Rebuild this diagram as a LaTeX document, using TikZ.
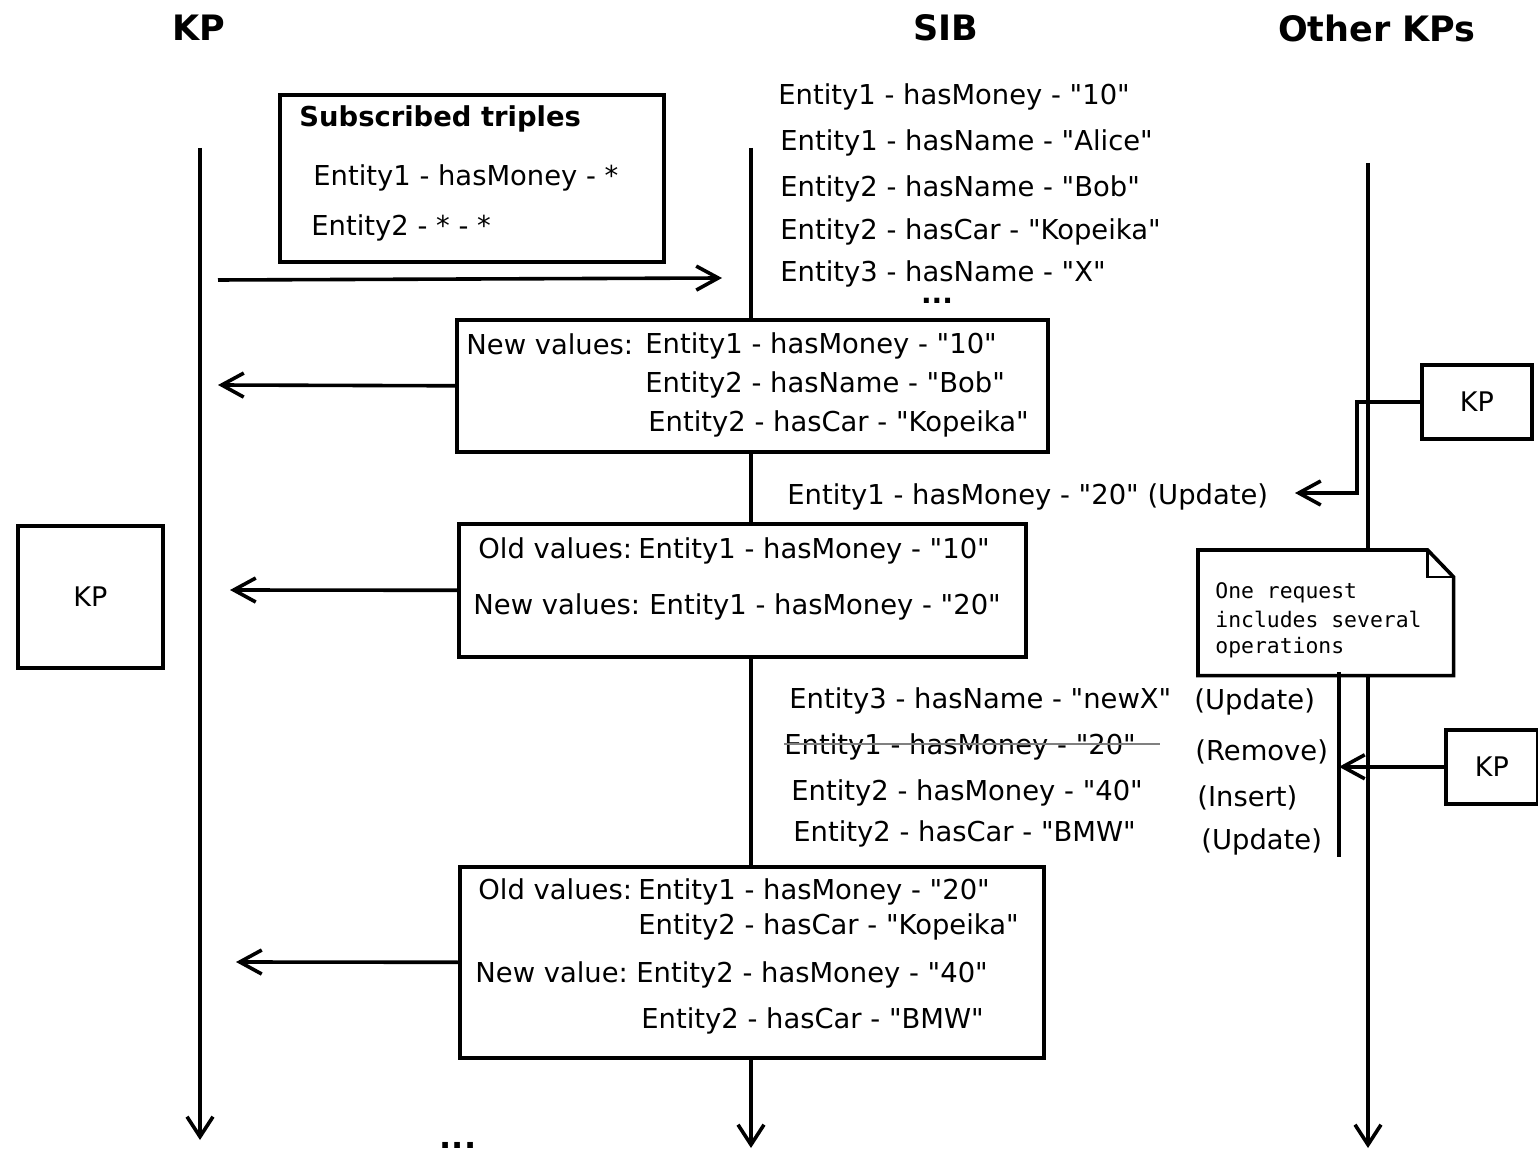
\documentclass[tikz,border=0pt]{standalone}
\usepackage{fontspec}
% families loaded without TeX ligatures so that " stays a straight quote
\newfontfamily\basefont{DejaVu Sans}
\newfontfamily\notefont{DejaVu Sans Mono}
\usetikzlibrary{arrows.meta,calc}

\tikzset{
  lifeline/.style={line width=1.8pt,-{Straight Barb[length=10pt,width=13pt]}},
  msg/.style={line width=1.8pt,-{Straight Barb[length=11pt,width=12pt]}},
  box/.style={draw,line width=1.8pt,fill=white,inner sep=0,anchor=north west},
  lbl/.style={anchor=west,inner sep=0,text height=10.2pt,text depth=3pt,yshift=-1.5pt,
              font=\basefont\fontsize{13.7}{17}\selectfont},
  boldlbl/.style={lbl,font=\basefont\bfseries\fontsize{13.7}{17}\selectfont},
  kptxt/.style={inner sep=0,font=\basefont\fontsize{13.5}{16}\selectfont},
  hdr/.style={inner sep=0,font=\basefont\bfseries\fontsize{17.5}{21}\selectfont},
  dots/.style={inner sep=0,text height=2.5pt,text depth=0pt,font=\basefont\bfseries\fontsize{14}{17}\selectfont},
  notetxt/.style={anchor=west,inner sep=0,font=\notefont\fontsize{10.7}{13}\selectfont},
}

\begin{document}
\begin{tikzpicture}[x=0.5pt,y=-0.5pt]
\useasboundingbox (0,0) rectangle (1538,1149);

% column headers
\node[hdr] (hKP)  at (199,28)  {KP};
\node[hdr] (hSIB) at (946,28)  {SIB};
\node[hdr] (hOth) at (1377,28) {Other KPs};

% lifelines
\coordinate (kpTop)  at (200,148);  \coordinate (kpBot)  at (200,1140);
\coordinate (sibTop) at (751,148);  \coordinate (sibBot) at (751,1148);
\coordinate (othTop) at (1368,163); \coordinate (othBot) at (1368,1148);
\draw[lifeline] (kpTop) -- (kpBot);
\draw[lifeline] (sibTop) -- (sibBot);
\draw[lifeline] (othTop) -- (othBot);

% subscription request
\node[box,minimum width=192pt,minimum height=83.5pt] (subs) at (278,93) {};
\node[boldlbl] (subsT) at (299,116) {Subscribed triples};
\node[lbl] (subs1) at (313,175) {Entity1 - hasMoney - *};
\node[lbl] (subs2) at (311,225) {Entity2 - * - *};
\coordinate (subFrom) at (218,280);
\coordinate (subTo) at (722,278);
\draw[msg] (subFrom) -- (subTo);

% SIB contents
\node[lbl] (s1) at (778,94)  {Entity1 - hasMoney - "10"};
\node[lbl] (s2) at (780,140) {Entity1 - hasName - "Alice"};
\node[lbl] (s3) at (780,186) {Entity2 - hasName - "Bob"};
\node[lbl] (s4) at (780,229) {Entity2 - hasCar - "Kopeika"};
\node[lbl] (s5) at (780,271) {Entity3 - hasName - "X"};
\node[dots] (sdots) at (937,301) {...};

% first notification
\node[box,minimum width=295.5pt,minimum height=66pt] (newv) at (455,318) {};
\node[lbl] (n0) at (466,344) {New values:};
\node[lbl] (n1) at (645,343) {Entity1 - hasMoney - "10"};
\node[lbl] (n2) at (645,382) {Entity2 - hasName - "Bob"};
\node[lbl] (n3) at (648,421) {Entity2 - hasCar - "Kopeika"};
\coordinate (kpIn1) at (218,385);
\draw[msg] (newv.west) -- (kpIn1);

% update from another KP
\node[box,minimum width=55pt,minimum height=37pt] (kpA) at (1420,363) {};
\node[kptxt] (kpAT) at (kpA.center) {KP};
\node[lbl] (upd) at (787,494) {Entity1 - hasMoney - "20" (Update)};
\coordinate (updTip) at (1295,493);
\draw[msg] (kpA.west) -- ++(-63,0) |- (updTip);

% second notification
\node[box,minimum width=283.5pt,minimum height=66.5pt] (oldv) at (457,522) {};
\node[lbl] (o1a) at (478,548) {Old values:};
\node[lbl] (o1b) at (638,548) {Entity1 - hasMoney - "10"};
\node[lbl] (o2a) at (473,604) {New values:};
\node[lbl] (o2b) at (649,604) {Entity1 - hasMoney - "20"};
\coordinate (kpIn2) at (230,590);
\draw[msg] (oldv.west) -- (kpIn2);

% subscribing KP
\node[box,minimum width=72.5pt,minimum height=71pt] (kpL) at (16,524) {};
\node[kptxt] (kpLT) at (kpL.center) {KP};

% note
\node[box,draw=none,minimum width=126pt,minimum height=61pt] (note) at (1198,550) {};
\draw[line width=1.8pt,fill=white]
  (note.north west) -- ($(note.north east)+(-26,0)$) -- ($(note.north east)+(0,27)$)
  -- (note.south east) -- (note.south west) -- cycle;
\draw[line width=1.2pt] ($(note.north east)+(-26,0)$) -- ($(note.north east)+(-26,27)$) -- ($(note.north east)+(0,27)$);
\node[notetxt] (nt1) at (1215,593) {One request};
\node[notetxt] (nt2) at (1215,619) {includes several};
\node[notetxt] (nt3) at (1215,648) {operations};

% composite request
\node[lbl] (r1) at (789,698) {Entity3 - hasName - "newX"};
\node[lbl] (r2) at (784,744) {Entity1 - hasMoney - "20"};
\node[lbl] (r3) at (791,790) {Entity2 - hasMoney - "40"};
\node[lbl] (r4) at (793,831) {Entity2 - hasCar - "BMW"};
\draw[gray,line width=1.1pt] ([yshift=1.5pt]r2.west) -- ([xshift=12pt,yshift=1.5pt]r2.east);
\node[lbl] (op1) at (1194,699) {(Update)};
\node[lbl] (op2) at (1195,750) {(Remove)};
\node[lbl] (op3) at (1197,796) {(Insert)};
\node[lbl] (op4) at (1201,839) {(Update)};
\coordinate (brTop) at (1339,672);
\coordinate (brBot) at (1339,857);
\draw[line width=1.8pt] (brTop) -- (brBot);
\node[box,minimum width=46pt,minimum height=37pt] (kpB) at (1444,728) {};
\node[kptxt] (kpBT) at (kpB.center) {KP};
\draw[msg] (kpB.west) -- (kpB.west -| brTop);

% third notification
\node[box,minimum width=292pt,minimum height=95.5pt] (last) at (458,865) {};
\node[lbl] (l1a) at (478,889)  {Old values:};
\node[lbl] (l1b) at (638,889)  {Entity1 - hasMoney - "20"};
\node[lbl] (l2)  at (638,924)  {Entity2 - hasCar - "Kopeika"};
\node[lbl] (l3a) at (475,972)  {New value:};
\node[lbl] (l3b) at (636,972)  {Entity2 - hasMoney - "40"};
\node[lbl] (l4)  at (641,1018) {Entity2 - hasCar - "BMW"};
\coordinate (kpIn3) at (236,962);
\draw[msg] (last.west) -- (kpIn3);

% continuation below the last message
\node[dots,font=\basefont\bfseries\fontsize{16}{19}\selectfont] (more) at (458,1146) {...};
\end{tikzpicture}
\end{document}
